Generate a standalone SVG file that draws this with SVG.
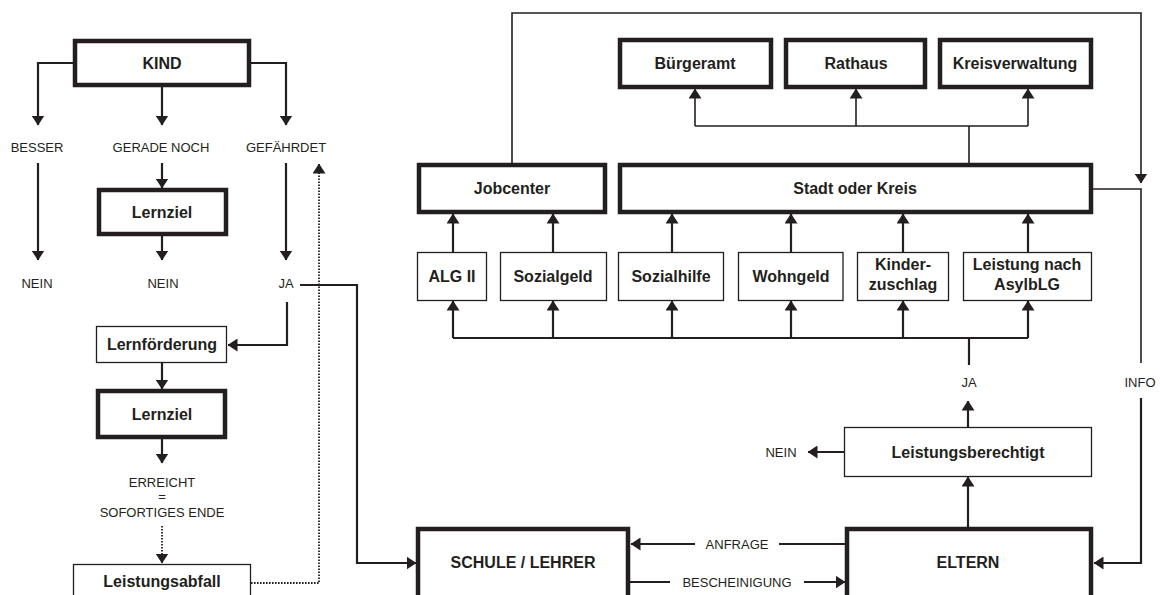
<svg xmlns="http://www.w3.org/2000/svg" width="1160" height="595" viewBox="0 0 1160 595">
<style>
  .bx{fill:#fff;stroke:#231f20;stroke-width:4.5}
  .tn{fill:#fff;stroke:#231f20;stroke-width:1.3}
  .lb{font-family:"Liberation Sans",Arial,sans-serif;font-weight:bold;font-size:16px;fill:#231f20;text-anchor:middle}
  .sm{font-family:"Liberation Sans",Arial,sans-serif;font-size:13px;fill:#231f20;text-anchor:middle}
  .ln{fill:none;stroke:#231f20;stroke-width:2.2}
  .lt{fill:none;stroke:#231f20;stroke-width:1.6}
  .dt{fill:none;stroke:#231f20;stroke-width:1.8;stroke-dasharray:1.6 1.4}
</style>
<defs>
  <marker id="a" viewBox="0 0 10 13" refX="9.5" refY="6.5" markerWidth="10" markerHeight="13" markerUnits="userSpaceOnUse" orient="auto">
    <path d="M0,0 L10,6.5 L0,13 z" fill="#231f20"/>
  </marker>
</defs>
<rect width="1160" height="595" fill="#fff"/>

<g id="connectors">
  <path class="ln" d="M73,63 H38 V125" marker-end="url(#a)"/>
  <path class="ln" d="M162,87 V125" marker-end="url(#a)"/>
  <path class="ln" d="M251,63 H286 V125" marker-end="url(#a)"/>
  <path class="ln" d="M38,163 V260" marker-end="url(#a)"/>
  <path class="ln" d="M162,163 V188" marker-end="url(#a)"/>
  <path class="ln" d="M162,236 V260" marker-end="url(#a)"/>
  <path class="ln" d="M286,163 V260" marker-end="url(#a)"/>
  <path class="ln" d="M287,302 V345 H228" marker-end="url(#a)"/>
  <path class="ln" d="M162,363 V389" marker-end="url(#a)"/>
  <path class="ln" d="M162,439 V463" marker-end="url(#a)"/>
  <path class="dt" d="M162,526 V563" marker-end="url(#a)"/>
  <path class="dt" d="M251,583 H319 V164" marker-end="url(#a)"/>
  <path class="ln" d="M300,285 H357 V563 H416" marker-end="url(#a)"/>

  <path class="lt" d="M512,163 V13 H1141 V183" marker-end="url(#a)"/>
  <path class="lt" d="M1093,189 H1141 V363"/>
  <path class="ln" d="M1141,398 V563 H1094" marker-end="url(#a)"/>

  <path class="lt" d="M969,163 V126 M695,126 H1028"/>
  <path class="lt" d="M695,126 V89" marker-end="url(#a)"/>
  <path class="lt" d="M856,126 V89" marker-end="url(#a)"/>
  <path class="lt" d="M1028,126 V89" marker-end="url(#a)"/>

  <path class="ln" d="M453,252 V214" marker-end="url(#a)"/>
  <path class="ln" d="M553,252 V214" marker-end="url(#a)"/>
  <path class="ln" d="M672,252 V214" marker-end="url(#a)"/>
  <path class="ln" d="M791,252 V214" marker-end="url(#a)"/>
  <path class="ln" d="M903,252 V214" marker-end="url(#a)"/>
  <path class="ln" d="M1028,252 V214" marker-end="url(#a)"/>

  <path class="ln" d="M453,338 H1028 M969,338 V365"/>
  <path class="ln" d="M453,338 V301" marker-end="url(#a)"/>
  <path class="ln" d="M553,338 V301" marker-end="url(#a)"/>
  <path class="ln" d="M672,338 V301" marker-end="url(#a)"/>
  <path class="ln" d="M791,338 V301" marker-end="url(#a)"/>
  <path class="ln" d="M903,338 V301" marker-end="url(#a)"/>
  <path class="ln" d="M1028,338 V301" marker-end="url(#a)"/>

  <path class="ln" d="M968,427 V401" marker-end="url(#a)"/>
  <path class="ln" d="M968,527 V477" marker-end="url(#a)"/>
  <path class="ln" d="M844,452 H808" marker-end="url(#a)"/>

  <path class="ln" d="M845,544 H779"/>
  <path class="ln" d="M695,544 H631" marker-end="url(#a)"/>
  <path class="ln" d="M630,582 H670"/>
  <path class="ln" d="M804,582 H845" marker-end="url(#a)"/>
</g>

<g id="labels">
  <text class="sm" x="37" y="152">BESSER</text>
  <text class="sm" x="161" y="152">GERADE NOCH</text>
  <text class="sm" x="286" y="152">GEFÄHRDET</text>
  <text class="sm" x="37" y="288">NEIN</text>
  <text class="sm" x="163" y="288">NEIN</text>
  <text class="sm" x="286" y="288">JA</text>
  <text class="sm" x="162" y="487">ERREICHT</text>
  <text class="sm" x="162" y="501">=</text>
  <text class="sm" x="162" y="517">SOFORTIGES ENDE</text>
  <text class="sm" x="969" y="387">JA</text>
  <text class="sm" x="1140" y="387">INFO</text>
  <text class="sm" x="781" y="457">NEIN</text>
  <text class="sm" x="737" y="549">ANFRAGE</text>
  <text class="sm" x="737" y="587">BESCHEINIGUNG</text>
</g>

<g id="kind"><rect class="bx" x="75" y="41" width="174" height="44"/><text class="lb" x="162" y="69">KIND</text></g>
<g id="lernziel1"><rect class="bx" x="99" y="190" width="127" height="44"/><text class="lb" x="162" y="218">Lernziel</text></g>
<g id="lernfoerderung"><rect class="tn" x="96.5" y="326.5" width="130" height="36"/><text class="lb" x="162" y="350">Lernförderung</text></g>
<g id="lernziel2"><rect class="bx" x="98" y="391" width="127" height="46"/><text class="lb" x="162" y="420">Lernziel</text></g>
<g id="leistungsabfall"><rect class="tn" x="73.5" y="564.5" width="177" height="45"/><text class="lb" x="162" y="587">Leistungsabfall</text></g>

<g id="buergeramt"><rect class="bx" x="620" y="40" width="151" height="47"/><text class="lb" x="695" y="69">Bürgeramt</text></g>
<g id="rathaus"><rect class="bx" x="786" y="40" width="139" height="47"/><text class="lb" x="856" y="69">Rathaus</text></g>
<g id="kreisverwaltung"><rect class="bx" x="940" y="40" width="151" height="47"/><text class="lb" x="1015" y="69">Kreisverwaltung</text></g>
<g id="jobcenter"><rect class="bx" x="419" y="165" width="186" height="47"/><text class="lb" x="512" y="194">Jobcenter</text></g>
<g id="stadt"><rect class="bx" x="620" y="165" width="471" height="47"/><text class="lb" x="855" y="194">Stadt oder Kreis</text></g>

<g id="alg2"><rect class="tn" x="417.5" y="252.5" width="69" height="48"/><text class="lb" x="452" y="282">ALG II</text></g>
<g id="sozialgeld"><rect class="tn" x="500.5" y="252.5" width="106" height="48"/><text class="lb" x="553" y="282">Sozialgeld</text></g>
<g id="sozialhilfe"><rect class="tn" x="618.5" y="252.5" width="105" height="48"/><text class="lb" x="671" y="282">Sozialhilfe</text></g>
<g id="wohngeld"><rect class="tn" x="738.5" y="252.5" width="104.5" height="48"/><text class="lb" x="791" y="282">Wohngeld</text></g>
<g id="kinderzuschlag"><rect class="tn" x="857.5" y="252.5" width="91" height="48"/><text class="lb" x="903" y="270">Kinder-</text><text class="lb" x="903" y="290">zuschlag</text></g>
<g id="asylblg"><rect class="tn" x="963.5" y="252.5" width="128" height="48"/><text class="lb" x="1027" y="270">Leistung nach</text><text class="lb" x="1027" y="290">AsylbLG</text></g>

<g id="leistungsberechtigt"><rect class="tn" x="844.5" y="427.5" width="247" height="49"/><text class="lb" x="968" y="458">Leistungsberechtigt</text></g>
<g id="schule"><rect class="bx" x="418" y="529" width="210" height="80"/><text class="lb" x="523" y="568">SCHULE / LEHRER</text></g>
<g id="eltern"><rect class="bx" x="847" y="529" width="244" height="80"/><text class="lb" x="968" y="568">ELTERN</text></g>
</svg>
